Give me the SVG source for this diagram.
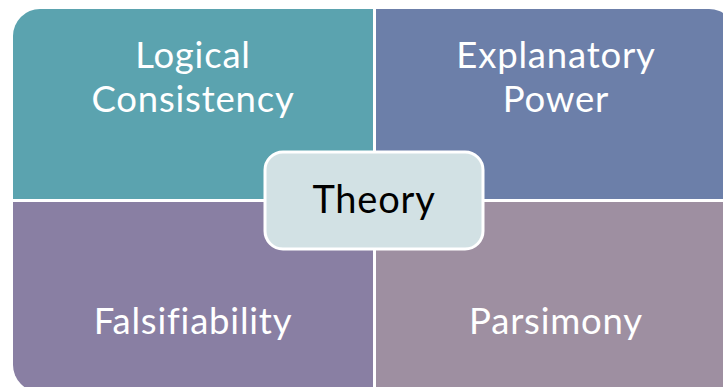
<svg xmlns="http://www.w3.org/2000/svg" width="723" height="387" viewBox="0 0 723 387">
<style>
.lbl{font-family:Lato,"Open Sans","Liberation Sans",sans-serif;font-size:36.5px;letter-spacing:0.8px;font-variant-ligatures:none;fill:#ffffff;text-anchor:middle}
.ctr{font-family:Lato,"Open Sans","Liberation Sans",sans-serif;font-size:38px;letter-spacing:0.8px;font-variant-ligatures:none;fill:#000000;text-anchor:middle}
</style>
<rect width="723" height="387" fill="#ffffff"/>
<g id="logical-consistency">
<path d="M13,199 V36 A27,27 0 0 1 40,9 H373 V199 Z" fill="#5BA3AF"/>
<text class="lbl" x="193" y="68"><tspan x="193" y="68">Logical</tspan><tspan x="193" y="112">Consistency</tspan></text>
</g>
<g id="explanatory-power">
<path d="M376,9 H709 A27,27 0 0 1 736,36 V199 H376 Z" fill="#6C7FA9"/>
<text class="lbl" x="556" y="68"><tspan x="556" y="68">Explanatory</tspan><tspan x="556" y="112">Power</tspan></text>
</g>
<g id="falsifiability">
<path d="M13,202 H373 V392 H40 A27,27 0 0 1 13,365 Z" fill="#897FA3"/>
<text class="lbl" x="193" y="334">Falsifiability</text>
</g>
<g id="parsimony">
<path d="M376,202 H736 V365 A27,27 0 0 1 709,392 H376 Z" fill="#9E8FA1"/>
<text class="lbl" x="556" y="334">Parsimony</text>
</g>
<g id="connectors"></g>
<g id="theory">
<rect x="265" y="152" width="218" height="97" rx="18" ry="18" fill="#D2E1E4" stroke="#ffffff" stroke-width="3"/>
<text class="ctr" x="374" y="213">Theory</text>
</g>
</svg>
